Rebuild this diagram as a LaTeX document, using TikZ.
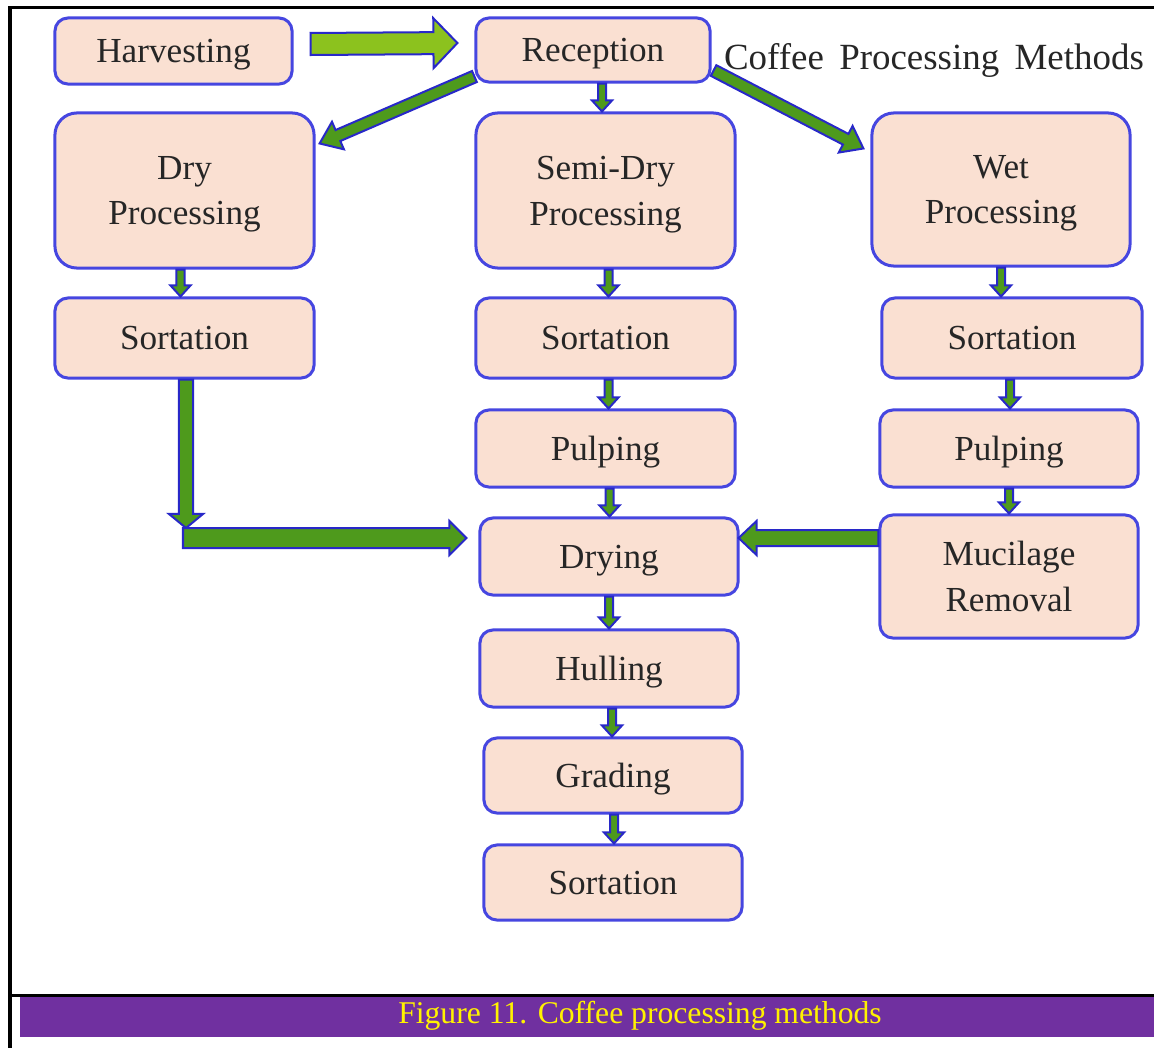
\documentclass[tikz,border=0pt]{standalone}
\usepackage{fontspec}
\setmainfont{Liberation Serif}
\usetikzlibrary{calc}

\definecolor{boxfill}{RGB}{250,224,210}
\definecolor{boxline}{RGB}{70,70,224}
\definecolor{arrblue}{RGB}{40,40,200}
\definecolor{arrgreen}{RGB}{78,154,28}
\definecolor{lightgreen}{RGB}{140,194,30}
\definecolor{capviolet}{RGB}{112,48,160}
\definecolor{textgray}{RGB}{38,38,38}

\tikzset{
  stage/.style={draw=boxline, fill=boxfill, line width=0.03cm, rounded corners=0.13cm,
    align=center, inner sep=0pt, text=textgray, font=\fontsize{10}{13}\selectfont,
    text depth=0pt, minimum width=2.59cm, minimum height=0.77cm},
  bigstage/.style={stage, rounded corners=0.22cm, minimum height=1.55cm},
  arrline/.style={draw=arrblue, line width=0.02cm, line join=miter}
}

% block arrow: fill, from, to, half shaft, half head, head length
\newcommand{\blockarrow}[6]{%
  \path (#2) coordinate (ba-s) (#3) coordinate (ba-e);
  \path ($(ba-e)!#6!(ba-s)$) coordinate (ba-h);
  \draw[arrline, fill=#1]
    ($(ba-s)!#4!90:(ba-e)$) -- ($(ba-h)!#4!90:(ba-e)$) -- ($(ba-h)!#5!90:(ba-e)$)
    -- (ba-e)
    -- ($(ba-h)!#5!-90:(ba-e)$) -- ($(ba-h)!#4!-90:(ba-e)$) -- ($(ba-s)!#4!-90:(ba-e)$)
    -- cycle;
}
\newcommand{\smallarrow}[2]{\blockarrow{arrgreen}{#1}{#2}{0.04cm}{0.1cm}{0.11cm}}

\begin{document}
\begin{tikzpicture}[x=0.01cm, y=-0.01cm]
        \useasboundingbox (0,0) rectangle (1154,1048);

        % frame and caption
        \draw[line width=0.03cm]
            (10,1048) -- (10,7) -- (1154,7)
            (10,995) -- (1154,995);
        \fill[capviolet] (20,997) rectangle (1154,1037);
        \node[text=yellow, font=\fontsize{9}{11}\selectfont] (caption) at (640,1016)
            {Figure 11. Coffee processing methods};

        % top row
        \node[stage, minimum width=2.37cm, minimum height=0.66cm] (harv) at (173.5,51) {Harvesting};
        \node[stage, minimum width=2.34cm, minimum height=0.64cm] (recep) at (593,50) {Reception};
        \node[text=textgray, font=\fontsize{10.5}{13}\selectfont, text depth=0pt] (title) at (934,56)
            {Coffee\, Processing\, Methods};

        % three methods
        \node[bigstage] (dry) at (184.5,190.5) {Dry\\Processing};
        \node[bigstage] (semi) at (605.5,190.5) {Semi-Dry\\Processing};
        \node[bigstage, minimum width=2.58cm, minimum height=1.53cm] (wet) at (1001,189.5) {Wet\\Processing};

        \node[stage, minimum height=0.8cm] (sortd) at (184.5,338) {Sortation};
        \node[stage, minimum height=0.8cm] (sorts) at (605.5,338) {Sortation};
        \node[stage, minimum height=0.8cm, minimum width=2.6cm] (sortw) at (1012,338) {Sortation};

        \node[stage] (pulps) at (605.5,448.5) {Pulping};
        \node[stage, minimum width=2.58cm] (pulpw) at (1009,448.5) {Pulping};

        \node[stage, minimum width=2.58cm] (drying) at (609,556.5) {Drying};
        \node[stage, minimum width=2.58cm, minimum height=1.23cm] (mucil) at (1009,576.5) {Mucilage\\Removal};

        \node[stage, minimum width=2.58cm] (hull) at (609,668.5) {Hulling};
        \node[stage, minimum width=2.58cm, minimum height=0.75cm] (grad) at (613,775.5) {Grading};
        \node[stage, minimum width=2.58cm, minimum height=0.75cm] (sortf) at (613,882.5) {Sortation};

        \coordinate (bend) at (186,538);

        % arrows
        \blockarrow{lightgreen}{[xshift=0.17cm,yshift=0.07cm]harv.east}{[xshift=-0.17cm,yshift=0.07cm]recep.west}{0.11cm}{0.25cm}{0.24cm}
        \blockarrow{arrgreen}{[yshift=0.07cm]recep.south west}{[xshift=0.04cm,yshift=-0.32cm]dry.north east}{0.06cm}{0.15cm}{0.2cm}
        \blockarrow{arrgreen}{[xshift=0.02cm,yshift=0.13cm]recep.south east}{[xshift=-0.07cm,yshift=-0.37cm]wet.north west}{0.06cm}{0.15cm}{0.2cm}

        \smallarrow{[xshift=0.09cm]recep.south}{[xshift=0.09cm]recep.south |- semi.north}
        \smallarrow{[xshift=-0.04cm]dry.south}{[xshift=-0.04cm]dry.south |- sortd.north}
        \smallarrow{[xshift=0.03cm]semi.south}{[xshift=0.03cm]semi.south |- sorts.north}
        \smallarrow{wet.south}{wet.south |- sortw.north}
        \smallarrow{[xshift=0.03cm]sorts.south}{[xshift=0.03cm]sorts.south |- pulps.north}
        \smallarrow{[xshift=-0.02cm]sortw.south}{[xshift=-0.02cm]sortw.south |- pulpw.north}
        \smallarrow{[xshift=0.04cm]pulps.south}{[xshift=0.04cm]pulps.south |- drying.north}
        \smallarrow{pulpw.south}{pulpw.south |- mucil.north}
        \smallarrow{drying.south}{drying.south |- hull.north}
        \smallarrow{[xshift=0.03cm]hull.south}{[xshift=0.03cm]hull.south |- grad.north}
        \smallarrow{[xshift=0.01cm]grad.south}{[xshift=0.01cm]grad.south |- sortf.north}

        \blockarrow{arrgreen}{[xshift=0.015cm]sortd.south}{[yshift=0.1cm]bend}{0.07cm}{0.17cm}{0.14cm}
        \blockarrow{arrgreen}{[xshift=-0.03cm]bend}{[xshift=-0.12cm]drying.west |- bend}{0.1cm}{0.17cm}{0.17cm}
        \blockarrow{arrgreen}{mucil.west |- bend}{[xshift=-0.01cm]drying.east |- bend}{0.08cm}{0.17cm}{0.18cm}

    \end{tikzpicture}
\end{document}
